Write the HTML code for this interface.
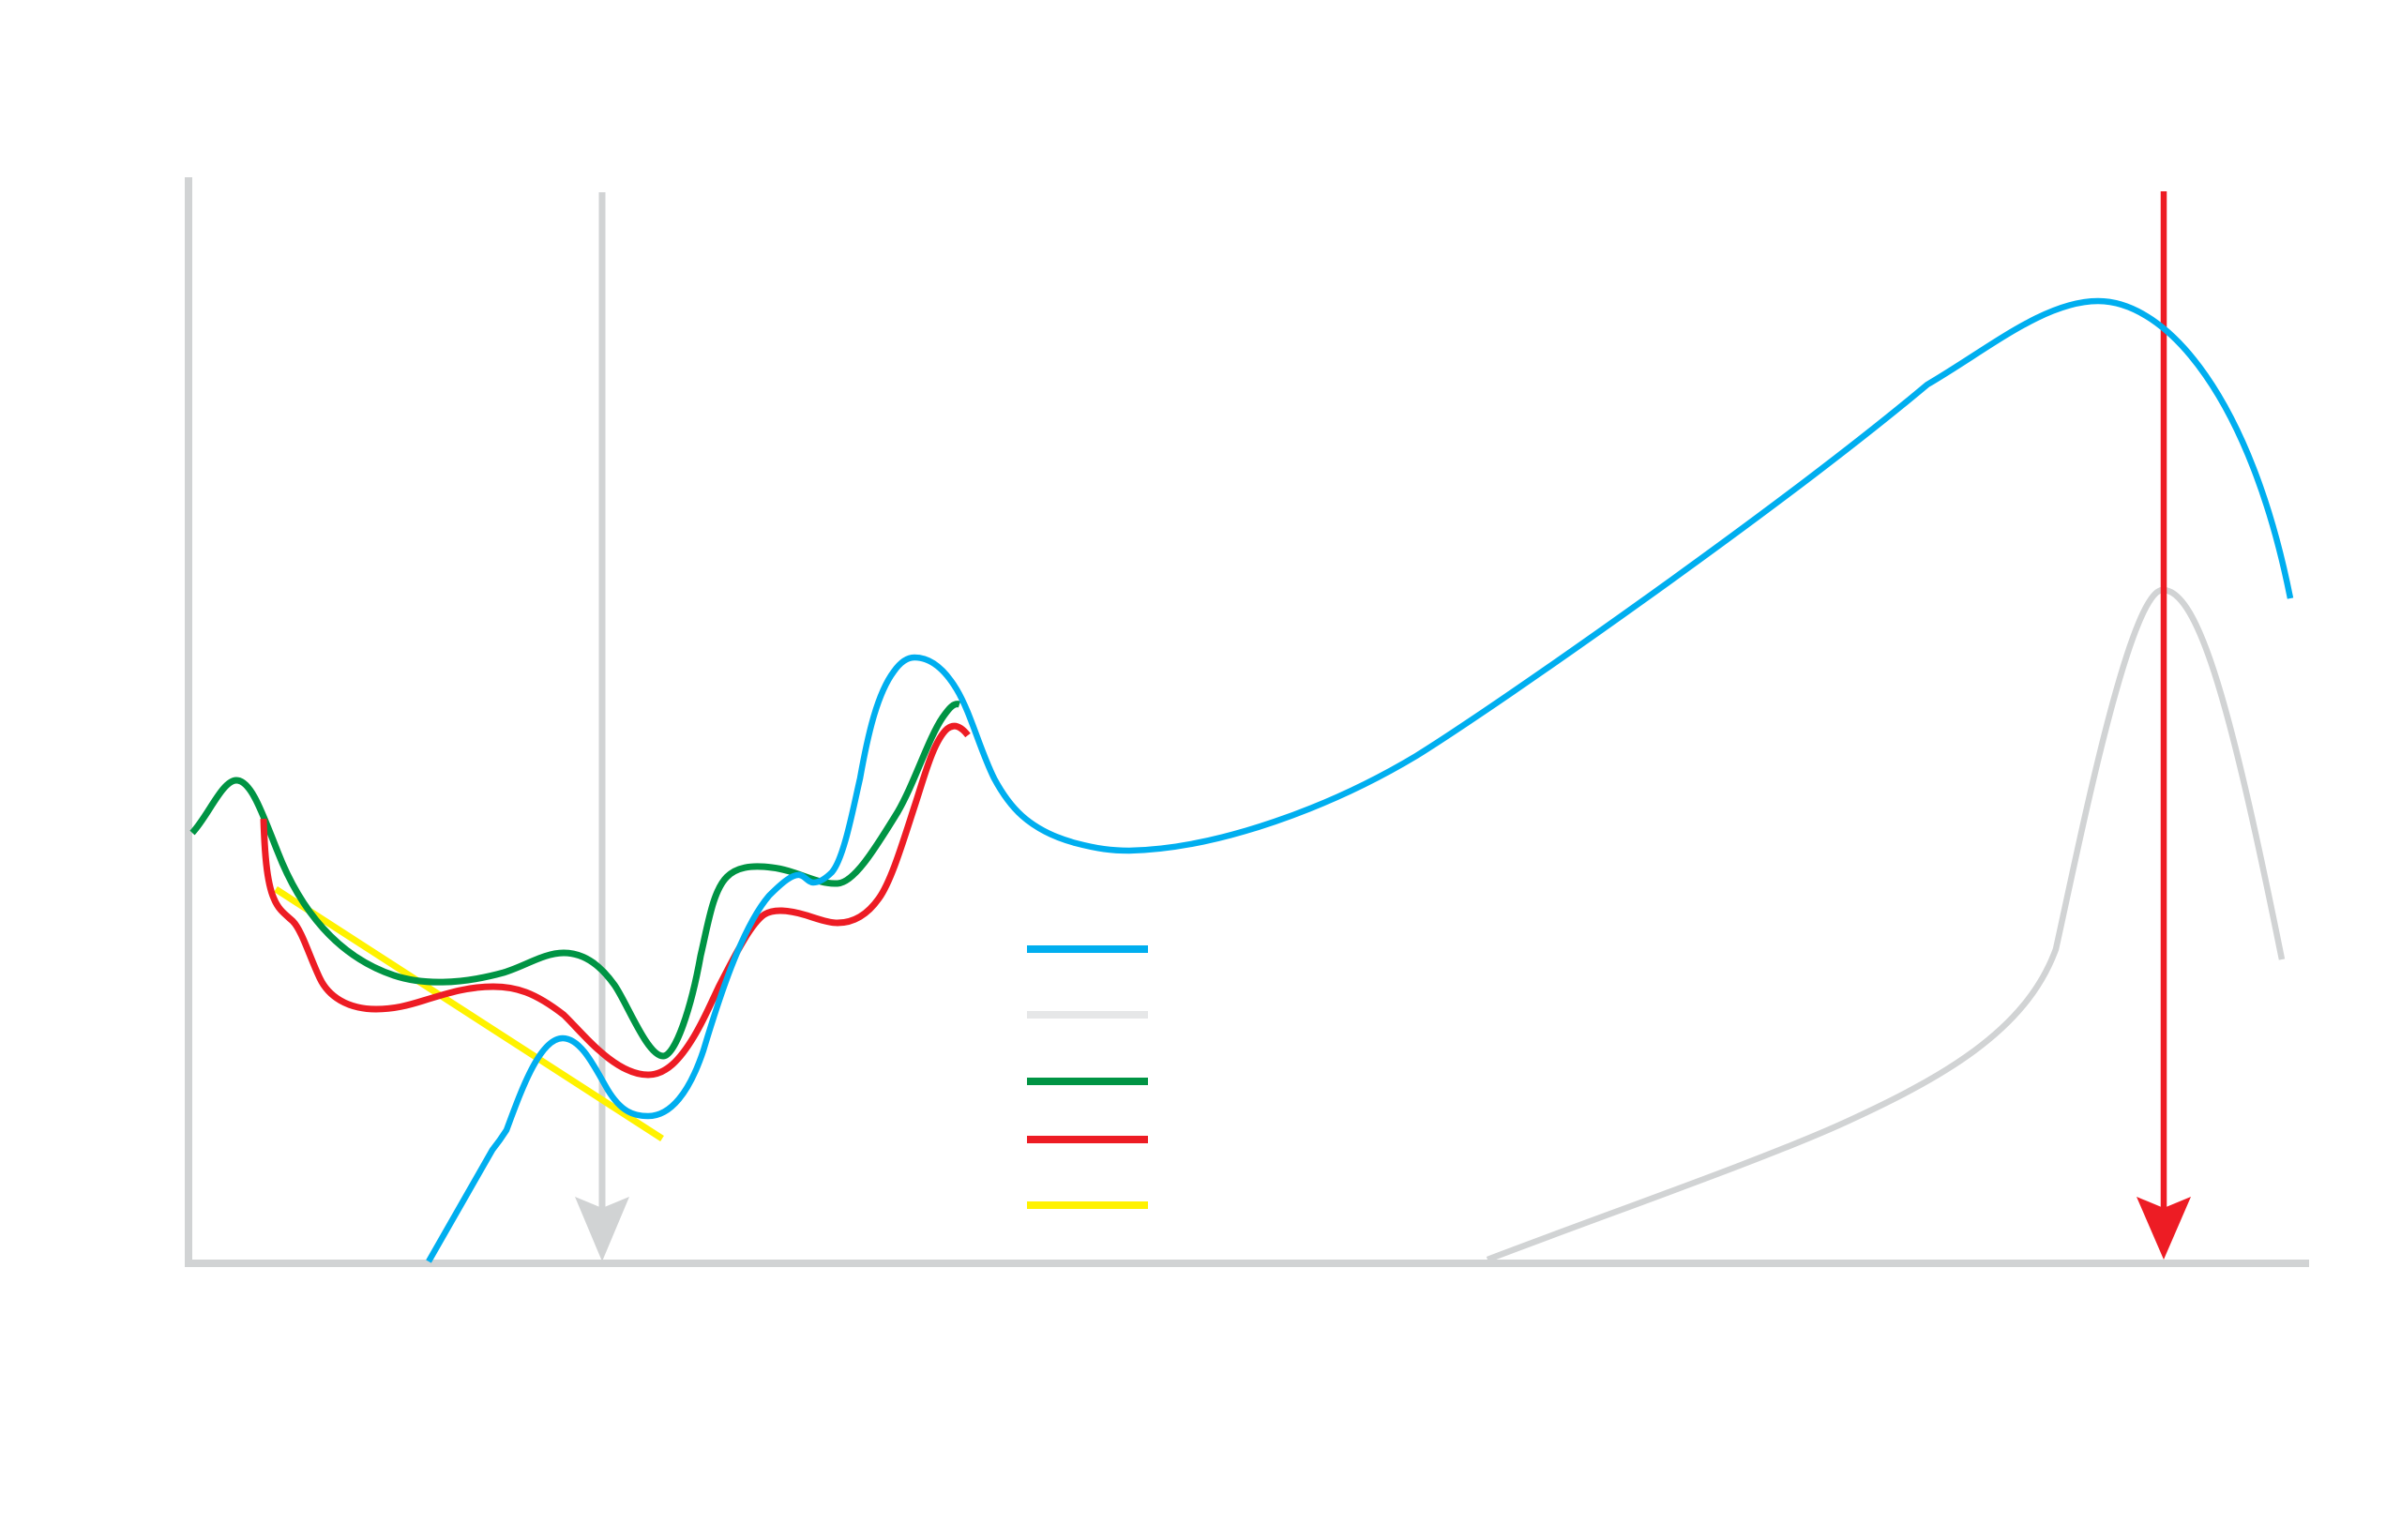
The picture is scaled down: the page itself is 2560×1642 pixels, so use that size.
<!DOCTYPE html>
<html>
<head>
<meta charset="utf-8">
<style>
  html, body { margin: 0; padding: 0; background: #ffffff; }
  body { width: 2560px; height: 1642px; overflow: hidden; position: relative; font-family: "Liberation Sans", sans-serif; }
  svg { position: absolute; left: 0; top: 0; }
</style>
</head>
<body>
<svg width="2560" height="1642" viewBox="0 0 2560 1642" xmlns="http://www.w3.org/2000/svg">
  <rect x="0" y="0" width="2560" height="1642" fill="#ffffff"/>

  <!-- axes -->
  <line x1="201" y1="189" x2="201" y2="1351" stroke="#d1d3d4" stroke-width="8"/>
  <line x1="197" y1="1347" x2="2462" y2="1347" stroke="#d1d3d4" stroke-width="8"/>

  <!-- gray vertical arrow -->
  <line x1="642" y1="205" x2="642" y2="1290" stroke="#d1d3d4" stroke-width="7"/>
  <polygon points="613,1276 642,1288 671,1276 642,1345" fill="#d1d3d4"/>

  <!-- gray curve -->
  <path fill="none" stroke="#d1d3d4" stroke-width="6.5" stroke-linejoin="round"
    d="M1586,1343 C1720,1292 1870,1240 1960,1200 C2070,1150 2160,1100 2192,1012 C2215,909 2270,629 2306,629 C2345,629 2380,760 2433,1023"/>

  <!-- yellow line -->
  <line x1="294" y1="948" x2="706" y2="1214" stroke="#fff200" stroke-width="7"/>

  <!-- green curve -->
  <path fill="none" stroke="#009444" stroke-width="7" stroke-linejoin="round"
    d="M205,888 C222,870 237,832 252,832 C268,832 280,868 296,908 C320,970 360,1020 420,1040 C450,1050 490,1050 537,1037 C560,1030 580,1016 601,1016 C625,1016 642,1032 655,1050 C668,1068 690,1126 707,1126 C720,1126 737,1075 747,1019 C755,985 760,950 775,935 C785,925 800,922 823,925 C850,928 870,943 893,942 C910,941 930,910 957,866 C975,835 990,787 1005,765 C1012,755 1017,749 1023,751"/>

  <!-- red curve -->
  <path fill="none" stroke="#ed1c24" stroke-width="7" stroke-linejoin="round"
    d="M281,873 C282,905 284,940 292,958 C297,970 303,974 312,982 C322,992 330,1020 341,1043 C350,1062 370,1076 401,1076 C420,1076 435,1072 451,1067 C480,1058 500,1052 526,1052 C550,1052 570,1058 601,1082 C620,1100 655,1146 691,1146 C710,1146 725,1130 740,1105 C752,1085 760,1065 767,1051 C782,1022 800,985 815,975 C825,969 840,970 860,976 C875,981 885,984 893,984 C910,984 925,975 937,958 C950,940 962,900 975,860 C985,830 995,790 1010,777 C1018,771 1025,775 1032,784"/>

  <!-- red vertical arrow -->
  <line x1="2307" y1="204" x2="2307" y2="1290" stroke="#ed1c24" stroke-width="6.5"/>
  <polygon points="2278,1276 2307,1288 2336,1276 2307,1343" fill="#ed1c24"/>

  <!-- blue curve -->
  <path fill="none" stroke="#00aeef" stroke-width="6.5" stroke-linejoin="round"
    d="M457,1345 L525,1226 Q533,1216 540,1205 C555,1165 575,1107 600,1107 C620,1107 635,1140 648,1162 C662,1185 675,1190 691,1190 C715,1190 735,1165 750,1120 C765,1070 790,990 820,955 C835,940 845,932 853,933 C858,934 862,941 867,941 C875,941 882,935 887,930 C900,915 910,860 917,830 C925,785 935,740 953,716 C960,706 967,701 975,701 C990,701 1005,710 1020,735 C1035,760 1045,800 1060,830 C1075,858 1095,885 1147,899 C1170,905 1185,907 1204,907 C1300,905 1420,860 1510,806 C1600,750 1900,540 2055,410 C2120,372 2180,321 2237,321 C2311,321 2400,426 2442,638"/>

  <!-- legend -->
  <line x1="1095" y1="1012" x2="1224" y2="1012" stroke="#00aeef" stroke-width="8"/>
  <line x1="1095" y1="1082" x2="1224" y2="1082" stroke="#e6e7e8" stroke-width="8"/>
  <line x1="1095" y1="1153" x2="1224" y2="1153" stroke="#009444" stroke-width="8"/>
  <line x1="1095" y1="1215" x2="1224" y2="1215" stroke="#ed1c24" stroke-width="8"/>
  <line x1="1095" y1="1285" x2="1224" y2="1285" stroke="#fff200" stroke-width="8"/>
</svg>
</body>
</html>
